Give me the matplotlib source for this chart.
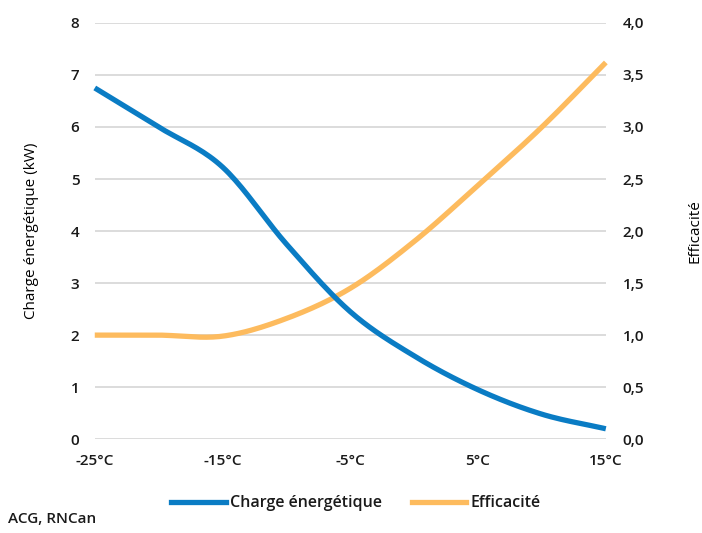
import numpy as np
import matplotlib.pyplot as plt
from matplotlib.lines import Line2D

plt.rcParams['font.family'] = ['Open Sans', 'DejaVu Sans']
plt.rcParams['font.weight'] = 'semibold'
plt.rcParams['text.color'] = '#1a1a1a'
plt.rcParams['xtick.color'] = '#1a1a1a'
plt.rcParams['ytick.color'] = '#1a1a1a'

temps = [-25, -20, -15, -10, -5, 0, 5, 10, 15]
charge = [6.75, 6.0, 5.23, 3.75, 2.45, 1.6, 0.95, 0.48, 0.2]
efficacite = [1.0, 1.0, 0.99, 1.16, 1.45, 1.9, 2.44, 3.0, 3.62]
xticks = [-25, -15, -5, 5, 15]
xlabels = ['-25°C', '-15°C', '-5°C', '5°C', '15°C']

blue = '#0a7cc4'
orange = '#fdbb5e'


def smooth(x, y, n=20):
  # catmull-rom drawing, like a smoothed spreadsheet line
  x = np.asarray(x, float)
  y = np.asarray(y, float)
  px = np.concatenate([[2*x[0]-x[1]], x, [2*x[-1]-x[-2]]])
  py = np.concatenate([[2*y[0]-y[1]], y, [2*y[-1]-y[-2]]])
  ox, oy = [], []
  t = np.linspace(0, 1, n, endpoint=False)
  for i in range(1, len(px)-2):
    for p, o in ((px, ox), (py, oy)):
      p0, p1, p2, p3 = p[i-1], p[i], p[i+1], p[i+2]
      o.extend(0.5*((2*p1) + (-p0+p2)*t + (2*p0-5*p1+4*p2-p3)*t**2 + (-p0+3*p1-3*p2+p3)*t**3))
  ox.append(x[-1])
  oy.append(y[-1])
  return np.array(ox), np.array(oy)


fig = plt.figure(figsize=(7.02, 5.33), dpi=100)
ax = fig.add_axes([0.135, 0.176, 0.728, 0.781])
ax2 = ax.twinx()

ax.set_xlim(-25, 15)
ax.set_ylim(0, 8)
ax2.set_ylim(0, 4)
ax.set_yticks(range(0, 9))
ax2.set_yticks(np.arange(0, 4.01, 0.5))
ax2.set_yticklabels([('%.1f' % v).replace('.', ',') for v in np.arange(0, 4.01, 0.5)])
ax.set_xticks(xticks)
ax.set_xticklabels(xlabels)

ax.grid(axis='y', color='#d9d9d9', linewidth=1.3)
ax.set_axisbelow(True)
for a in (ax, ax2):
  for s in a.spines.values():
    s.set_visible(False)
ax.tick_params(axis='y', length=0, pad=11, labelsize=11)
ax.tick_params(axis='x', length=0, pad=11, labelsize=11)
ax2.tick_params(axis='y', length=0, pad=12, labelsize=11)

sx, sy = smooth(temps, efficacite)
ax2.plot(sx, sy, color=orange, lw=3.8, solid_capstyle='butt', clip_on=False)
sx, sy = smooth(temps, charge)
ax2.plot(sx, np.array(sy)/2, color=blue, lw=3.8, solid_capstyle='butt', clip_on=False)

ax.set_ylabel('Charge énergétique (kW)', fontsize=11, labelpad=23)
ax2.set_ylabel('Efficacité', fontsize=11, labelpad=31)

handles = [Line2D([], [], color=blue, lw=3.8), Line2D([], [], color=orange, lw=3.8)]
fig.legend(handles, ['Charge énergétique', 'Efficacité'], loc='center',
           bbox_to_anchor=(0.507, 0.056), ncol=2, frameon=False, fontsize=11.5,
           handlelength=3.4, handletextpad=0.25, columnspacing=1.9)
fig.text(0.011, 0.018, 'ACG, RNCan', fontsize=11)

fig.savefig('out.png', dpi=100)
